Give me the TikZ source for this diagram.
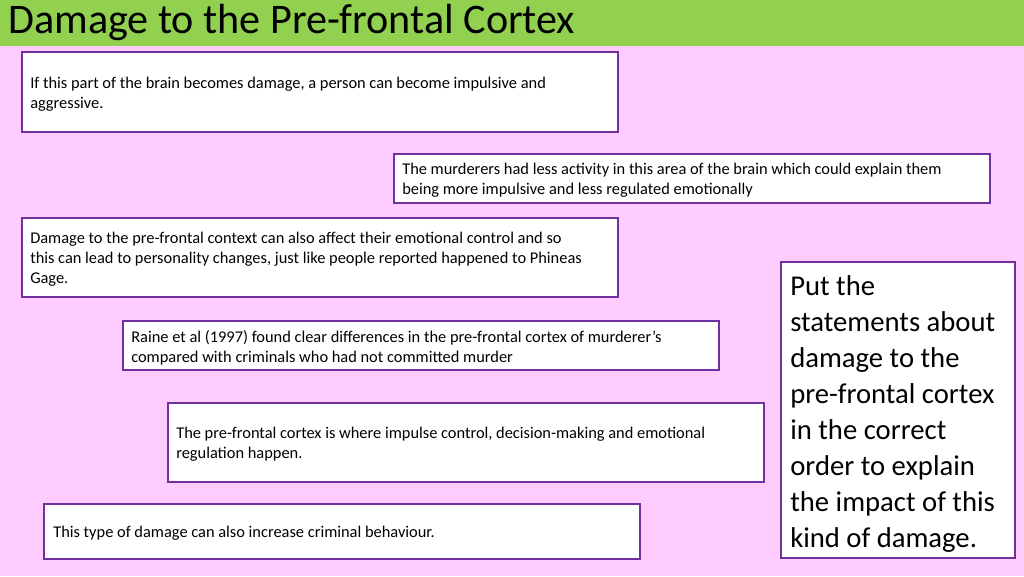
\documentclass[tikz,border=0pt]{standalone}
\usepackage{fontspec}
\setmainfont{Carlito}
\definecolor{bg}{HTML}{FFCCFF}
\definecolor{bar}{HTML}{92D050}
\definecolor{edge}{HTML}{7030A0}
\begin{document}
\begin{tikzpicture}[x=0.75pt,y=-0.75pt,
  card/.style={draw=edge,line width=1.5pt,fill=white},
  txt/.style={anchor=north west,inner sep=0pt,align=left,font=\fontsize{12.3pt}{15pt}\selectfont}]
\fill[bg] (0,0) rectangle (1024,576);
\fill[bar] (0,0) rectangle (1024,46);
\useasboundingbox (0,0) rectangle (1024,576);
\node[anchor=west,inner sep=0pt,font=\fontsize{31.6pt}{36pt}\selectfont] (title) at (8,22) {Damage to the Pre-frontal Cortex};
\draw[card] (22,52) rectangle (618,132);
\node[txt] (t1) at (30,77) {If this part of the brain becomes damage, a person can become impulsive and\\ aggressive.};
\draw[card] (394,154) rectangle (990,203);
\node[txt] (t2) at (402,163) {The murderers had less activity in this area of the brain which could explain them\\ being more impulsive and less regulated emotionally};
\draw[card] (22,218) rectangle (618,297);
\node[txt] (t3) at (30,232) {Damage to the pre-frontal context can also affect their emotional control and so\\ this can lead to personality changes, just like people reported happened to Phineas\\ Gage.};
\draw[card] (123,321) rectangle (719,370);
\node[txt] (t4) at (131,330) {Raine et al (1997) found clear differences in the pre-frontal cortex of murderer’s\\ compared with criminals who had not committed murder};
\draw[card] (168,403) rectangle (764,482);
\node[txt] (t5) at (176,427) {The pre-frontal cortex is where impulse control, decision-making and emotional\\ regulation happen.};
\draw[card] (44,504) rectangle (640,559);
\node[txt] (t6) at (53,526) {This type of damage can also increase criminal behaviour.};
\draw[card] (781,262) rectangle (1015,558);
\node[anchor=north west,inner sep=0pt,align=left,font=\fontsize{21.5pt}{27pt}\selectfont] (t7) at (790,275) {Put the\\ statements about\\ damage to the\\ pre-frontal cortex\\ in the correct\\ order to explain\\ the impact of this\\ kind of damage.};
\end{tikzpicture}
\end{document}
